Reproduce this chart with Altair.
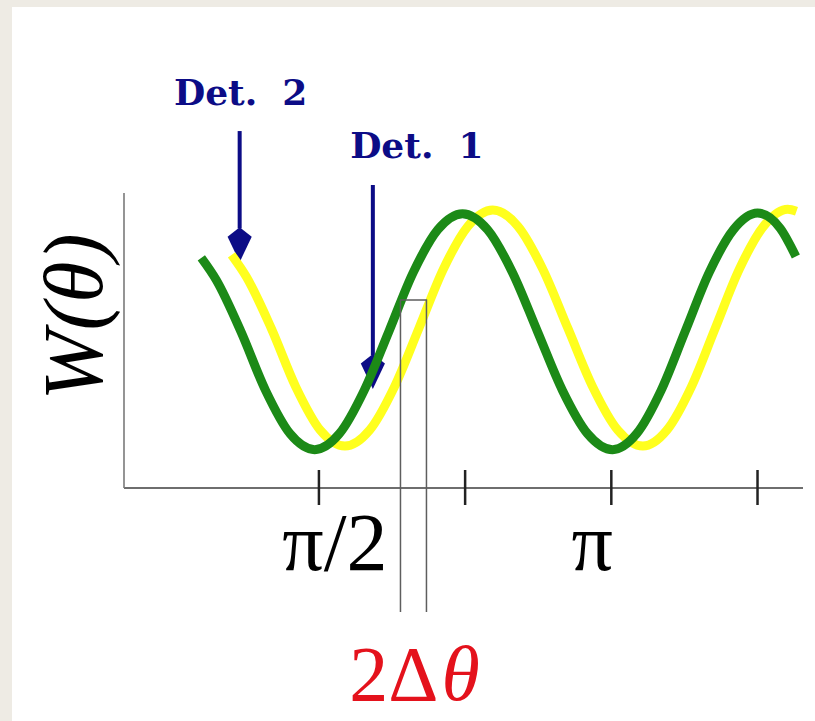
import altair as alt
import pandas as pd

# Angular correlation W(theta) seen by the two detectors (theta in degrees, W in arbitrary units)
det1_theta = [53.8, 58.4, 66.0, 73.6, 81.1, 88.7, 96.3, 103.9, 111.5, 119.0, 126.6, 134.2,
              141.9, 149.6, 157.3, 165.0, 172.7, 180.4, 187.8, 195.3, 202.7, 210.1, 217.6, 225.0,
              232.0, 236.8]
det1_w = [7.8, 7.05, 5.3, 3.3, 1.84, 1.3, 1.84, 3.3, 5.3, 7.3, 8.76, 9.3,
          8.76, 7.3, 5.3, 3.3, 1.84, 1.3, 1.84, 3.3, 5.3, 7.3, 8.76, 9.32,
          8.8, 7.85]

det2_theta = [63.1, 67.7, 75.3, 82.9, 90.4, 98.0, 105.6, 113.2, 120.8, 128.3, 135.9, 143.5,
              151.2, 158.9, 166.6, 174.3, 182.0, 189.7, 197.1, 204.6, 212.0, 219.4, 226.9, 234.3,
              237.0]
det2_w = [7.9, 7.15, 5.42, 3.42, 1.96, 1.42, 1.96, 3.42, 5.42, 7.42, 8.88, 9.42,
          8.88, 7.42, 5.42, 3.42, 1.96, 1.42, 1.96, 3.42, 5.42, 7.42, 8.88, 9.45,
          9.38]

# x-axis ticks (pi/2, 3pi/4, pi, 5pi/4)
tick_theta = [90, 135, 180, 225]

# Detector arrows: name, angle, top of shaft, end of shaft, head centre
arrow_names = ["Det. 2", "Det. 1"]
arrow_theta = [65.6, 106.6]
arrow_top = [12.1, 10.27]
arrow_end = [8.8, 4.5]
arrow_head = [8.25, 3.95]

# 2*Delta-theta window between the two curves
window_theta = [115.1, 115.1, 123.1, 123.1]
window_w = [-4.2, 6.37, 6.37, -4.2]

GREEN = "#1c8a17"
YELLOW = "#ffff1e"
NAVY = "#0c0c86"
RED = "#e4121c"
SERIF = "Liberation Serif"

W_PX, H_PX = 679, 295
xs = alt.Scale(domain=[30, 239], nice=False, zero=False)
ys = alt.Scale(domain=[0, 10], nice=False, zero=False)

curve1 = pd.DataFrame({"theta": det1_theta, "W": det1_w})
curve2 = pd.DataFrame({"theta": det2_theta, "W": det2_w})
ticks = pd.DataFrame({"theta": tick_theta})
arrows = pd.DataFrame({"name": arrow_names, "theta": arrow_theta, "top": arrow_top,
                       "end": arrow_end, "head": arrow_head})
window = pd.DataFrame({"theta": window_theta, "W": window_w,
                       "i": list(range(len(window_theta)))})
one = pd.DataFrame({"k": [0]})

# white slide panel over the grey page
panel = alt.Chart(one).mark_rect(color="white").encode(
    x=alt.value(-112), x2=alt.value(W_PX + 12),
    y=alt.value(-186), y2=alt.value(H_PX + 233),
)

# plain axis lines along the left and bottom of the plot area
x_line = alt.Chart(one).mark_rule(color="#6e6e6e", strokeWidth=2).encode(
    x=alt.value(0), x2=alt.value(W_PX), y=alt.value(H_PX),
)
y_line = alt.Chart(one).mark_rule(color="#7a7a7a", strokeWidth=1.6).encode(
    x=alt.value(0), y=alt.value(0), y2=alt.value(H_PX),
)

shaft = alt.Chart(arrows).mark_rule(color=NAVY, strokeWidth=4).encode(
    x=alt.X("theta:Q", scale=xs, axis=None),
    y=alt.Y("top:Q", scale=ys, axis=None),
    y2="end:Q",
)

head = alt.Chart(arrows).mark_point(
    shape="M0,1 L-0.69,-0.45 L0,-1 L0.69,-0.45 Z",
    filled=True, size=1225, color=NAVY, opacity=1, strokeWidth=0,
).encode(
    x=alt.X("theta:Q", scale=xs, axis=None),
    y=alt.Y("head:Q", scale=ys, axis=None),
)

line2 = alt.Chart(curve2).mark_line(
    color=YELLOW, strokeWidth=9, strokeCap="butt", interpolate="monotone"
).encode(
    x=alt.X("theta:Q", scale=xs, axis=None),
    y=alt.Y("W:Q", scale=ys, axis=None),
)

line1 = alt.Chart(curve1).mark_line(
    color=GREEN, strokeWidth=9, strokeCap="butt", interpolate="monotone"
).encode(
    x=alt.X("theta:Q", scale=xs, axis=None),
    y=alt.Y("W:Q", scale=ys, axis=None),
)

box = alt.Chart(window).mark_line(color="#5e5e5e", strokeWidth=1.5).encode(
    x=alt.X("theta:Q", scale=xs, axis=None),
    y=alt.Y("W:Q", scale=ys, axis=None),
    order="i:Q",
)

tick_marks = alt.Chart(ticks).mark_rule(color="#222222", strokeWidth=2.5).encode(
    x=alt.X("theta:Q", scale=xs, axis=None),
    y=alt.value(277), y2=alt.value(312),
)


def label(text, theta, y_px, dx=0, size=78, font=SERIF, style="normal",
          weight="normal", color="black", align="center", angle=0, baseline="alphabetic"):
    return alt.Chart(pd.DataFrame({"t": [text], "theta": [theta]})).mark_text(
        font=font, fontSize=size, fontStyle=style, fontWeight=weight, color=color,
        align=align, baseline=baseline, dx=dx, angle=angle,
    ).encode(
        x=alt.X("theta:Q", scale=xs, axis=None),
        y=alt.value(y_px),
        text="t:N",
    )


# rotated y-axis title, placed left of the axis line
y_title = alt.Chart(pd.DataFrame({"t": ["W(\u03b8)"]})).mark_text(
    font=SERIF, fontSize=84, fontStyle="italic", color="black",
    align="center", baseline="middle", angle=270,
).encode(x=alt.value(-47), y=alt.value(124), text="t:N")

labels = [
    label("\u03c0/2", 90, 377, dx=16, size=82),
    label("\u03c0", 180, 377, dx=-19, size=82),
    label("2\u0394", 119.1, 507, dx=25, color=RED, align="right"),
    label("\u03b8", 119.1, 507, dx=28, color=RED, style="italic", align="left"),
    label("Det.\u00a0\u00a02", arrow_theta[0], -88, dx=1, size=36, font="DejaVu Serif",
          weight="bold", color=NAVY),
    label("Det.\u00a0\u00a01", arrow_theta[1], -35, dx=44, size=36, font="DejaVu Serif",
          weight="bold", color=NAVY),
]

chart = alt.layer(panel, x_line, y_line, shaft, head, line2, line1, box, tick_marks,
                  y_title, *labels).properties(
    width=W_PX, height=H_PX,
    autosize=alt.AutoSizeParams(type="none"),
    padding={"left": 124, "top": 193, "right": 12, "bottom": 233},
    background="#eeebe4",
).configure_view(strokeWidth=0)

chart.save("out.html", embed_options={"renderer": "svg", "actions": False})
